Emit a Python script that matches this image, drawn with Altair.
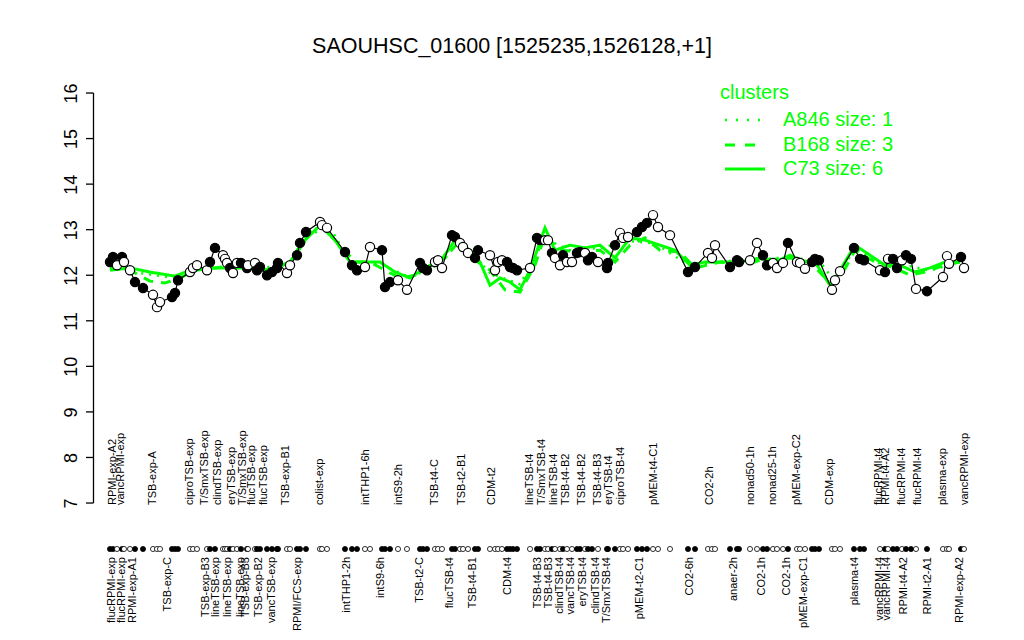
import altair as alt
import pandas as pd

# ---------------- data ----------------
pos = [110, 113, 117, 122, 124, 130, 135, 143, 153, 157, 160, 172, 175, 178, 190, 193, 197, 207, 210, 215,
       223, 225, 227, 230, 233, 237, 241, 247, 248, 255, 257, 260, 267, 272, 277, 278, 287, 290, 297, 300,
       306, 320, 322, 327, 345, 352, 357, 365, 370, 382, 385, 390, 398, 407, 420, 423, 427, 435, 438, 442,
       452, 455, 460, 463, 468, 475, 478, 490, 495, 498, 502, 507, 510, 513, 517, 530, 537, 540, 545, 548,
       552, 555, 560, 563, 567, 572, 577, 580, 585, 588, 592, 598, 607, 608, 615, 620, 623, 628, 637, 642,
       647, 653, 658, 670, 688, 695, 708, 712, 715, 730, 737, 739, 750, 757, 763, 767, 773, 777, 783, 788,
       797, 800, 805, 812, 815, 819, 832, 835, 840, 854, 860, 864, 880, 885, 888, 893, 897, 902, 906, 911,
       916, 927, 943, 947, 949, 961, 964]
expr = [12.29, 12.40, 12.22, 12.40, 12.29, 12.11, 11.85, 11.72, 11.57, 11.30, 11.41, 11.52, 11.61, 11.89, 12.07, 12.16, 12.22, 12.11, 12.29, 12.60,
        12.44, 12.36, 12.27, 12.16, 12.05, 12.27, 12.27, 12.16, 12.22, 12.27, 12.11, 12.18, 12.00, 12.07, 12.16, 12.27, 12.05, 12.22, 12.44, 12.71,
        12.95, 13.17, 13.10, 13.04, 12.51, 12.22, 12.11, 12.18, 12.62, 12.55, 11.74, 11.85, 11.89, 11.68, 12.27, 12.16, 12.11, 12.29, 12.33, 12.16,
        12.88, 12.84, 12.71, 12.62, 12.49, 12.38, 12.55, 12.44, 12.11, 12.29, 12.33, 12.29, 12.18, 12.16, 12.11, 12.16, 12.82, 12.77, 12.77, 12.77,
        12.49, 12.38, 12.22, 12.44, 12.29, 12.29, 12.49, 12.51, 12.49, 12.33, 12.40, 12.29, 12.16, 12.27, 12.66, 12.93, 12.82, 12.84, 12.95, 13.06,
        13.15, 13.32, 13.06, 12.88, 12.07, 12.18, 12.49, 12.38, 12.66, 12.18, 12.33, 12.29, 12.33, 12.71, 12.44, 12.22, 12.27, 12.16, 12.27, 12.71,
        12.29, 12.27, 12.14, 12.29, 12.36, 12.33, 11.68, 11.89, 12.09, 12.60, 12.36, 12.33, 12.11, 12.07, 12.36, 12.36, 12.16, 12.33, 12.44, 12.36,
        11.70, 11.65, 11.96, 12.42, 12.25, 12.40, 12.16]
filled = [1, 1, 0, 1, 0, 0, 1, 1, 0, 0, 0, 1, 1, 1, 0, 0, 0, 0, 1, 1,
          0, 0, 0, 1, 0, 0, 1, 1, 0, 0, 1, 1, 1, 1, 1, 1, 0, 0, 1, 1,
          1, 0, 0, 0, 1, 1, 1, 0, 0, 1, 1, 1, 0, 0, 1, 1, 1, 0, 0, 0,
          1, 1, 0, 0, 0, 1, 1, 0, 0, 0, 0, 1, 1, 1, 1, 0, 1, 1, 0, 0,
          1, 0, 0, 1, 0, 0, 1, 1, 0, 1, 1, 0, 1, 1, 1, 0, 0, 0, 1, 1,
          1, 0, 0, 0, 1, 1, 0, 0, 0, 1, 1, 1, 0, 0, 1, 1, 0, 0, 0, 1,
          0, 0, 0, 1, 1, 1, 0, 0, 0, 1, 1, 1, 0, 1, 0, 1, 1, 0, 1, 1,
          0, 1, 0, 0, 0, 1, 0]

c73_pos = [110, 130, 150, 175, 190, 210, 230, 250, 270, 290, 305, 320, 335, 350, 365, 380, 395, 410, 425, 440,
           455, 470, 480, 490, 500, 510, 520, 530, 545, 555, 570, 585, 600, 615, 630, 645, 660, 675, 690, 705,
           720, 740, 760, 775, 790, 805, 815, 830, 840, 855, 870, 885, 900, 915, 930, 945, 960]
c73_val = [12.11, 12.16, 12.07, 11.98, 12.11, 12.16, 12.16, 12.16, 12.11, 12.29, 12.77, 13.10, 12.77, 12.29, 12.29, 12.29, 12.07, 11.94, 12.16, 12.29,
           12.77, 12.55, 12.29, 11.78, 11.94, 11.85, 11.68, 12.11, 13.04, 12.55, 12.66, 12.60, 12.66, 12.38, 12.82, 12.77, 12.66, 12.55, 12.22, 12.29,
           12.29, 12.29, 12.38, 12.29, 12.44, 12.29, 12.29, 11.78, 12.11, 12.66, 12.44, 12.22, 12.22, 12.07, 12.16, 12.29, 12.29]

b168_pos = [110, 130, 150, 165, 180, 195, 215, 240, 270, 290, 305, 320, 340, 355, 370, 385, 400, 415, 430, 445,
            460, 475, 490, 505, 520, 535, 545, 560, 580, 600, 615, 630, 645, 660, 680, 695, 720, 745, 760, 790,
            810, 830, 845, 855, 875, 895, 910, 925, 945, 960]
b168_val = [12.16, 12.11, 11.87, 11.83, 11.94, 12.11, 12.16, 12.22, 12.11, 12.29, 12.82, 13.10, 12.66, 12.29, 12.29, 12.11, 11.94, 12.00, 12.22, 12.38,
            12.77, 12.33, 12.11, 11.68, 11.63, 12.22, 12.88, 12.55, 12.51, 12.55, 12.29, 12.66, 12.82, 12.55, 12.51, 12.16, 12.29, 12.22, 12.33, 12.38,
            12.29, 11.83, 12.14, 12.55, 12.29, 12.16, 12.00, 12.07, 12.22, 12.29]

a846_pos = [110, 140, 170, 200, 230, 260, 290, 310, 330, 350, 380, 410, 440, 460, 490, 520, 545, 570, 600, 630,
            655, 690, 720, 760, 790, 820, 835, 855, 880, 910, 930, 960]
a846_val = [12.20, 12.05, 11.95, 12.15, 12.20, 12.15, 12.25, 12.90, 13.05, 12.30, 12.25, 11.95, 12.25, 12.75, 12.05, 11.80, 12.80, 12.55, 12.60, 12.75,
            12.70, 12.20, 12.30, 12.35, 12.40, 12.30, 11.85, 12.60, 12.25, 12.20, 12.10, 12.30]

top_pos = [113, 121, 153, 190, 205, 218, 232, 243, 252, 264, 286, 320, 366, 399, 435, 462, 492,
           530, 542, 554, 566, 582, 598, 609, 621, 654, 710, 751, 773, 797, 830, 879, 886, 902, 918, 943, 965]
top_text = ["RPMI-exp-A2", "vancRPMI-exp", "TSB-exp-A", "ciproTSB-exp", "T/SmxTSB-exp",
            "clindTSB-exp", "eryTSB-exp", "T/SmxTSB-exp", "flucTSB-exp", "flucTSB-exp", "TSB-exp-B1",
            "colist-exp", "intTHP1-6h", "intS9-2h", "TSB-t4-C", "TSB-t2-B1", "CDM-t2",
            "lineTSB-t4", "T/SmxTSB-t4", "lineTSB-t4", "TSB-t4-B2", "TSB-t4-B2", "TSB-t4-B3",
            "eryTSB-t4", "ciproTSB-t4", "pMEM-t4-C1", "CO2-2h", "nonad50-1h", "nonad25-1h",
            "pMEM-exp-C2", "CDM-exp", "flucRPMI-t4", "RPMI-t4-A2", "flucRPMI-t4", "flucRPMI-t4",
            "plasma-exp", "vancRPMI-exp"]

bot_pos = [112, 122, 133, 168, 206, 216, 228, 241, 246, 259, 272, 298, 347, 381, 420, 450, 473, 508,
           538, 549, 560, 571, 583, 596, 607, 640, 690, 734, 762, 787, 804, 855, 880, 887, 904, 928, 960]
bot_text = ["flucRPMI-exp", "flucRPMI-exp", "RPMI-exp-A1", "TSB-exp-C", "TSB-exp-B3",
            "lineTSB-exp", "lineTSB-exp", "lineTSB-exp", "TSB-exp-B3", "TSB-exp-B2", "vancTSB-exp",
            "RPMI/FCS-exp", "intTHP1-2h", "intS9-6h", "TSB-t2-C", "flucTSB-t4", "TSB-t4-B1", "CDM-t4",
            "TSB-t4-B3", "TSB-t4-B3", "clindTSB-t4", "vancTSB-t4", "eryTSB-t4", "clindTSB-t4",
            "T/SmxTSB-t4", "pMEM-t2-C1", "CO2-6h", "anaer-2h", "CO2-1h", "CO2-1h", "pMEM-exp-C1",
            "plasma-t4", "vancRPMI-t4", "vancRPMI-t4", "RPMI-t4-A2", "RPMI-t2-A1", "RPMI-exp-A2"]

y_ticks = [7, 8, 9, 10, 11, 12, 13, 14, 15, 16]
title_text = "SAOUHSC_01600 [1525235,1526128,+1]"
legend_title = "clusters"
legend_labels = ["A846 size: 1", "B168 size: 3", "C73 size: 6"]

# ---------------- chart ----------------
FONT = "Liberation Sans"
GREEN = "#00ff00"
W, H = 923, 624
LEFT = 85
LABEL_SIZE = 11.0
AXIS_POS = 93
TICK_END = 86

xs = alt.Scale(domain=[AXIS_POS, AXIS_POS + W])
ys = alt.Scale(domain=[4.169, 17.866])

pts = pd.DataFrame({"pos": pos, "expr": expr, "filled": filled})

# y axis: labels from the Vega-Lite axis; line and ticks drawn as rules
axis_df = pd.DataFrame({"x": [AXIS_POS + 0.5], "y": [y_ticks[0]], "y2": [y_ticks[-1]]})
axis_layer = alt.Chart(axis_df).mark_rule(color="black", strokeWidth=1.3).encode(
    x=alt.X("x:Q", scale=xs, axis=None),
    y=alt.Y("y:Q", scale=ys, axis=alt.Axis(values=y_ticks, domain=False, grid=False, ticks=False,
                                           labelFontSize=18, labelFont=FONT, labelColor="black",
                                           labelAngle=270, labelAlign="center", labelBaseline="bottom",
                                           labelPadding=13, title=None)),
    y2="y2:Q",
)

tick_df = pd.DataFrame({"x": [TICK_END] * len(y_ticks), "x2": [AXIS_POS + 0.5] * len(y_ticks), "y": y_ticks})
tick_layer = alt.Chart(tick_df).mark_rule(color="black", strokeWidth=1.3).encode(
    x=alt.X("x:Q", scale=xs, axis=None),
    x2="x2:Q",
    y=alt.Y("y:Q", scale=ys),
)

def green_line(p, v, dash, width=3):
    df = pd.DataFrame({"pos": p, "expr": v})
    return alt.Chart(df).mark_line(color=GREEN, strokeWidth=width, strokeDash=dash).encode(
        x=alt.X("pos:Q", scale=xs, axis=None),
        y=alt.Y("expr:Q", scale=ys),
        order="pos:Q",
    )

a_line = green_line(a846_pos, a846_val, [2, 6], 2.5)
b_line = green_line(b168_pos, b168_val, [10, 8], 3)
c_line = green_line(c73_pos, c73_val, [1, 0], 3)

black_line = alt.Chart(pts).mark_line(color="black", strokeWidth=1.2).encode(
    x=alt.X("pos:Q", scale=xs, axis=None),
    y=alt.Y("expr:Q", scale=ys),
    order="pos:Q",
)

fill_rule = alt.condition("datum.filled == 1", alt.value("black"), alt.value("white"))

points = alt.Chart(pts).mark_circle(size=85, stroke="black", strokeWidth=1.2, opacity=1).encode(
    x=alt.X("pos:Q", scale=xs, axis=None),
    y=alt.Y("expr:Q", scale=ys),
    fill=fill_rule,
)

rug = alt.Chart(pts).mark_circle(size=26, stroke="black", strokeWidth=0.8, opacity=1).encode(
    x=alt.X("pos:Q", scale=xs, axis=None),
    y=alt.value(541),
    fill=fill_rule,
)

top_df = pd.DataFrame({"pos": top_pos, "label": top_text})
top_labels = alt.Chart(top_df).mark_text(angle=270, align="left", baseline="middle",
                                         fontSize=LABEL_SIZE, font=FONT, color="black").encode(
    x=alt.X("pos:Q", scale=xs, axis=None),
    y=alt.value(497),
    text="label:N",
)

bot_df = pd.DataFrame({"pos": bot_pos, "label": bot_text})
bot_labels = alt.Chart(bot_df).mark_text(angle=270, align="right", baseline="middle",
                                         fontSize=LABEL_SIZE, font=FONT, color="black").encode(
    x=alt.X("pos:Q", scale=xs, axis=None),
    y=alt.value(549),
    text="label:N",
)

title = alt.Chart(pd.DataFrame({"t": [title_text]})).mark_text(
    fontSize=21.5, font=FONT, color="black", align="center", baseline="middle").encode(
    x=alt.value(512 - 93), y=alt.value(47 - 8), text="t:N")

leg_title = alt.Chart(pd.DataFrame({"t": [legend_title]})).mark_text(
    fontSize=20, font=FONT, color=GREEN, align="left", baseline="middle").encode(
    x=alt.value(720 - 93), y=alt.value(93 - 8), text="t:N")

leg_layers = []
leg_y = [112, 137, 161]
dashes = [[2, 9], [10, 10], [1, 0]]
for lab, yy, dsh in zip(legend_labels, leg_y, dashes):
    leg_layers.append(
        alt.Chart(pd.DataFrame({"t": [lab]})).mark_text(
            fontSize=20, font=FONT, color=GREEN, align="left", baseline="middle").encode(
            x=alt.value(783 - 93), y=alt.value(yy), text="t:N"))
    leg_layers.append(
        alt.Chart(pd.DataFrame({"t": [lab]})).mark_rule(
            color=GREEN, strokeWidth=3 if dsh != [2, 9] else 2.5, strokeDash=dsh).encode(
            x=alt.value(725 - 93), x2=alt.value(765 - 93), y=alt.value(yy)))

chart = alt.layer(
    axis_layer, tick_layer, a_line, b_line, c_line, black_line, points, rug, top_labels, bot_labels,
    title, leg_title, *leg_layers
).properties(
    width=W, height=H,
    padding={"left": LEFT, "top": 0, "right": 0, "bottom": 0},
    autosize=alt.AutoSizeParams(type="none"),
).configure(background="white").configure_view(stroke=None)

chart.save("out.html", embed_options={"renderer": "svg", "actions": False})
